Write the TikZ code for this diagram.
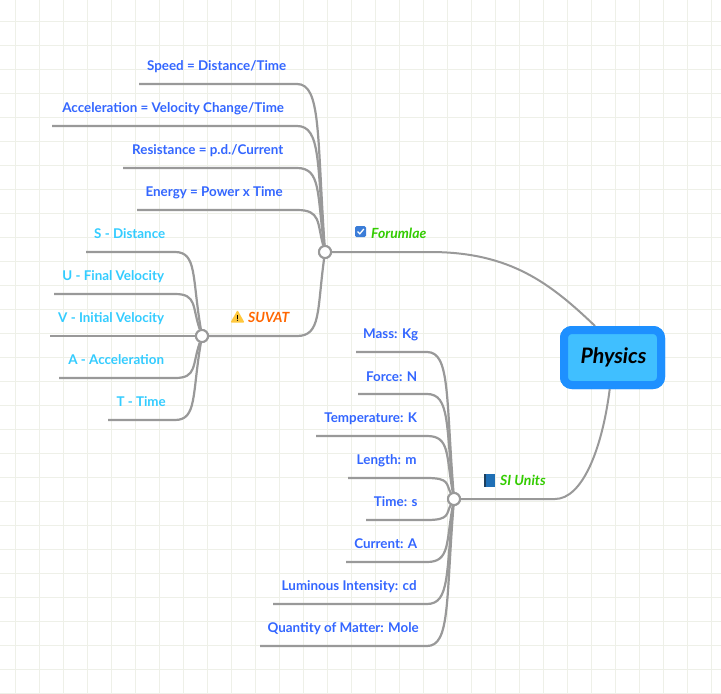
\documentclass[tikz,border=0pt]{standalone}
\usepackage{fontspec}
\setmainfont{Lato}
\definecolor{gridc}{HTML}{EEF0E8}
\definecolor{conc}{HTML}{999999}
\definecolor{leafa}{HTML}{3366FF}
\definecolor{leafb}{HTML}{33CCFF}
\definecolor{bord}{HTML}{1E90FF}
\definecolor{fillc}{HTML}{40BFFF}
\definecolor{gr}{HTML}{33CC00}
\definecolor{og}{HTML}{FF6600}
\definecolor{chk}{HTML}{3B7DD8}
\definecolor{warn}{HTML}{FFC83D}
\definecolor{bookc}{HTML}{1F6FB5}
\definecolor{bookd}{HTML}{1D3F5E}
\tikzset{
 gridline/.style={gridc,line width=1pt},
 conn/.style={conc,line width=2.2pt},
 mainconn/.style={conc,line width=2pt},
 hub/.style={circle,draw=conc,fill=white,line width=2pt,minimum size=12pt,inner sep=0pt},
 leaf/.style={anchor=south west,inner sep=0pt,minimum height=34pt,font=\fontsize{13.4}{15}\selectfont\bfseries,align=center},
 leafA/.style={leaf,text=leafa},
 leafB/.style={leaf,text=leafb},
 topic/.style={inner sep=0pt,font=\fontsize{14}{16}\selectfont\bfseries\itshape},
 central/.style={draw=bord,fill=fillc,line width=8pt,rounded corners=8pt,minimum width=97pt,minimum height=55pt,inner sep=0pt,font=\fontsize{21.3}{23}\selectfont\bfseries\itshape},
}
\begin{document}
\begin{tikzpicture}[x=1pt,y=-1pt]
\useasboundingbox (0,0) rectangle (721,694);
\fill[white] (0,0) rectangle (721,694);
\foreach \gx in {15,39,...,711} \draw[gridline] (\gx,0) -- (\gx,694);
\foreach \gy in {21,45,...,693} \draw[gridline] (0,\gy) -- (721,\gy);

\node[hub] (h1) at (325,252) {};
\node[hub] (h2) at (202,336) {};
\node[hub] (h3) at (454,499) {};

\node[leafA,minimum width=155pt] (a1) at (139,84) {Speed = Distance/Time};
\node[leafA,minimum width=242pt] (a2) at (52,126) {Acceleration = Velocity Change/Time};
\node[leafA,minimum width=169pt] (a3) at (123,168) {Resistance = p.d./Current};
\node[leafA,minimum width=154pt] (a4) at (137,210) {Energy = Power x Time};

\node[leafB,minimum width=87pt] (b1) at (86,251) {S - Distance};
\node[leafB,minimum width=118pt] (b2) at (54,294) {U - Final Velocity};
\node[leafB,minimum width=122pt] (b3) at (50,336) {V - Initial Velocity};
\node[leafB,minimum width=114pt] (b4) at (59,377) {A - Acceleration};
\node[leafB,minimum width=66pt] (b5) at (108,419) {T - Time};

\node[leafA,minimum width=69pt] (c1) at (356,352) {Mass: Kg};
\node[leafA,minimum width=67pt] (c2) at (358,394) {Force: N};
\node[leafA,minimum width=109pt] (c3) at (316,436) {Temperature: K};
\node[leafA,minimum width=77pt] (c4) at (348,478) {Length: m};
\node[leafA,minimum width=59pt] (c5) at (366,519) {Time: s};
\node[leafA,minimum width=79pt] (c6) at (346,561) {Current: A};
\node[leafA,minimum width=152pt] (c7) at (273,604) {Luminous Intensity: cd};
\node[leafA,minimum width=166pt] (c8) at (260,646) {Quantity of Matter: Mole};

\node[topic,text=gr,anchor=west] (t1) at (371,233.5) {Forumlae};
\node[topic,text=og,anchor=west] (t2) at (248,317.5) {SUVAT};
\node[topic,text=gr,anchor=west] (t3) at (500,480.5) {SI Units};

\coordinate (lb1) at (86,252);
\coordinate (lb4) at (59,378);
\coordinate (lb5) at (108,420);
\coordinate (lc5) at (366,520);
\coordinate (lc6) at (346,562);
\foreach \n/\yy in {a1.south west/84,a2.south west/126,a3.south west/168,a4.south west/210} {
  \pgfmathsetmacro{\py}{\yy+0.3*(252-\yy)}
  \draw[conn] (\n) -- (297,\yy) .. controls (321,\yy) and (317,\py) .. (h1);
}
\foreach \n/\yy in {lb1/252,b2.south west/294,lb4/378,lb5/420} {
  \pgfmathsetmacro{\py}{\yy+0.3*(336-\yy)}
  \draw[conn] (\n) -- (175,\yy) .. controls (197,\yy) and (192,\py) .. (h2);
}
\draw[conn] (b3.south west) -- (h2);
\foreach \n/\yy in {c1.south west/352,c2.south west/394,c3.south west/436,c4.south west/478,lc5/520,lc6/562,c7.south west/604,c8.south west/646} {
  \pgfmathsetmacro{\py}{\yy+0.3*(499-\yy)}
  \draw[conn] (\n) -- (427,\yy) .. controls (450,\yy) and (446,\py) .. (h3);
}
\draw[conn] (h2) -- (297,336) .. controls (321,336) and (317,311) .. (h1);
\node[central] (cen) at (612.5,357.5) {};
\draw[mainconn] (h1) -- (430,252) .. controls (510,252) and (550,283) .. (cen.119);
\draw[mainconn] (h3) -- (555,499) .. controls (582,499) and (602,450) .. (cen.265);
\node[central] at (cen) {\hspace{2pt}\raisebox{-1pt}{Physics}};

\node[hub] at (h1) {};
\node[hub] at (h2) {};
\node[hub] at (h3) {};

% icons
\fill[chk,rounded corners=1.5pt] (355,226) rectangle (366,237);
\draw[white,line width=1.3pt] (357.5,231.5) -- (359.8,233.8) -- (363.8,229);
\fill[warn,rounded corners=1pt] (230.5,322.5) -- (237.5,310) -- (244.5,322.5) -- cycle;
\draw[black,line width=1pt] (237.5,314.5) -- (237.5,318.5);
\fill[black] (237.5,320.3) circle (0.6);
\fill[bookc] (485,474) rectangle (495,487);
\fill[bookd] (484,474) rectangle (486,487);
\end{tikzpicture}
\end{document}
